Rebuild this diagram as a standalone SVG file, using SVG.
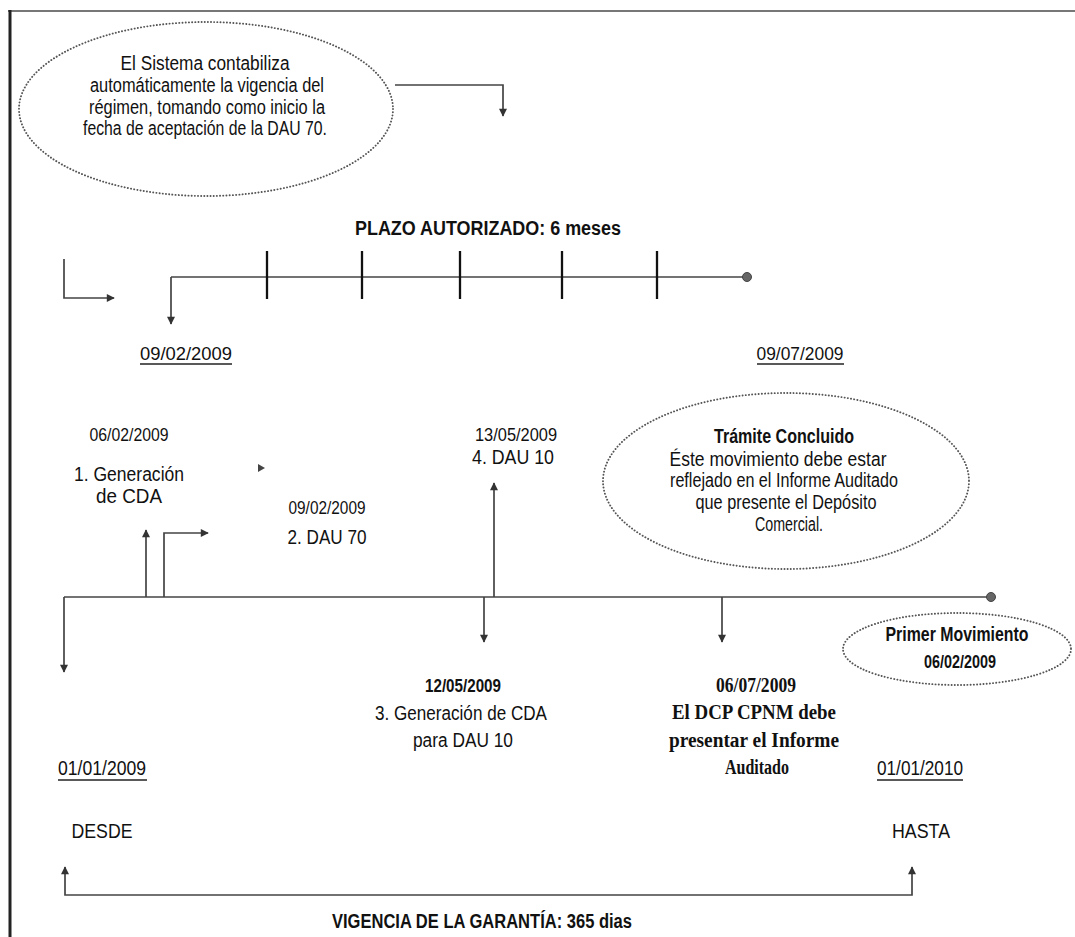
<svg xmlns="http://www.w3.org/2000/svg" width="1075" height="937" viewBox="0 0 1075 937">
<defs>
<style>
.t{font-family:"Liberation Sans Narrow","Arial Narrow","Liberation Sans",Arial,sans-serif;fill:#111;text-anchor:middle;font-size:20px}
.d{font-size:17.5px}
.b{font-weight:bold}
.s{font-family:"Liberation Serif","Times New Roman",serif;font-weight:bold}
.ln{stroke:#444;stroke-width:1.7;fill:none}
.ell{fill:none;stroke:#555;stroke-width:1.9;stroke-dasharray:0.1 3.1;stroke-linecap:round}
.tick{stroke:#111;stroke-width:2.3}
.ul{stroke:#222;stroke-width:1.5}
.dot{fill:#666;stroke:#444;stroke-width:1}
</style>
<marker id="ah" viewBox="0 0 10 10" refX="9" refY="5" markerWidth="9" markerHeight="8" markerUnits="userSpaceOnUse" orient="auto-start-reverse">
<path d="M0,0 L10,5 L0,10 z" fill="#333"/>
</marker>
</defs>
<rect width="1075" height="937" fill="#fff"/>
<g id="frame">
<line x1="8" y1="11" x2="1075" y2="11" stroke="#777" stroke-width="2"/>
<line x1="10" y1="10" x2="10" y2="937" stroke="#222" stroke-width="3"/>
</g>
<g id="note-sistema">
<ellipse class="ell" cx="206" cy="109" rx="187" ry="87"/>
<text class="t" x="205" y="70" textLength="169" lengthAdjust="spacingAndGlyphs">El Sistema contabiliza</text>
<text class="t" x="207" y="92" textLength="234" lengthAdjust="spacingAndGlyphs">automáticamente la vigencia del</text>
<text class="t" x="207" y="114" textLength="236" lengthAdjust="spacingAndGlyphs">régimen, tomando como inicio la</text>
<text class="t" x="205" y="135" textLength="244" lengthAdjust="spacingAndGlyphs">fecha de aceptación de la DAU 70.</text>
</g>
<g id="plazo-title">
<text class="t b" x="488" y="235" font-size="20" textLength="266" lengthAdjust="spacingAndGlyphs">PLAZO AUTORIZADO: 6 meses</text>
</g>
<g id="date-0902">
<text class="t d" x="186" y="360" font-size="18" textLength="92" lengthAdjust="spacingAndGlyphs">09/02/2009</text>
<line class="ul" x1="140" y1="364" x2="232" y2="364"/>
</g>
<g id="date-0907">
<text class="t d" x="800" y="360" font-size="18" textLength="87" lengthAdjust="spacingAndGlyphs">09/07/2009</text>
<line class="ul" x1="757" y1="364" x2="844" y2="364"/>
</g>
<g id="event-1">
<text class="t d" x="129" y="441" textLength="79" lengthAdjust="spacingAndGlyphs">06/02/2009</text>
<text class="t" x="129" y="481" font-size="21" textLength="110" lengthAdjust="spacingAndGlyphs">1. Generación</text>
<text class="t" x="129" y="503" font-size="21" textLength="66" lengthAdjust="spacingAndGlyphs">de CDA</text>
</g>
<g id="marker-tri">
<polygon points="258,464 265,468 258,472" fill="#444"/>
</g>
<g id="event-2">
<text class="t d" x="327" y="514" textLength="77" lengthAdjust="spacingAndGlyphs">09/02/2009</text>
<text class="t" x="327" y="544" font-size="21" textLength="79" lengthAdjust="spacingAndGlyphs">2. DAU 70</text>
</g>
<g id="event-4">
<text class="t d" x="516" y="441" textLength="82" lengthAdjust="spacingAndGlyphs">13/05/2009</text>
<text class="t" x="513" y="464" font-size="21" textLength="82" lengthAdjust="spacingAndGlyphs">4. DAU 10</text>
</g>
<g id="note-tramite">
<ellipse class="ell" cx="786" cy="481" rx="183" ry="88"/>
<text class="t b" x="784" y="443" font-size="19" textLength="140" lengthAdjust="spacingAndGlyphs">Trámite Concluido</text>
<text class="t" x="778" y="466" font-size="19" textLength="217" lengthAdjust="spacingAndGlyphs">Éste movimiento debe estar</text>
<text class="t" x="784" y="487" font-size="19" textLength="228" lengthAdjust="spacingAndGlyphs">reflejado en el Informe Auditado</text>
<text class="t" x="786" y="509" font-size="19" textLength="181" lengthAdjust="spacingAndGlyphs">que presente el Depósito</text>
<text class="t" x="789" y="531" font-size="19" textLength="68" lengthAdjust="spacingAndGlyphs">Comercial.</text>
</g>
<g id="note-primer">
<ellipse class="ell" cx="957" cy="649" rx="114" ry="36"/>
<text class="t b" x="957" y="641" font-size="19" textLength="143" lengthAdjust="spacingAndGlyphs">Primer Movimiento</text>
<text class="t d b" x="960" y="668" textLength="72" lengthAdjust="spacingAndGlyphs">06/02/2009</text>
</g>
<g id="event-3">
<text class="t d b" x="463" y="692" textLength="76" lengthAdjust="spacingAndGlyphs">12/05/2009</text>
<text class="t" x="461" y="720" font-size="21" textLength="172" lengthAdjust="spacingAndGlyphs">3. Generación de CDA</text>
<text class="t" x="463" y="747" font-size="21" textLength="100" lengthAdjust="spacingAndGlyphs">para DAU 10</text>
</g>
<g id="event-5">
<text class="t s" x="756" y="692" font-size="20" textLength="80" lengthAdjust="spacingAndGlyphs">06/07/2009</text>
<text class="t s" x="754" y="719" font-size="20" textLength="164" lengthAdjust="spacingAndGlyphs">El DCP CPNM debe</text>
<text class="t s" x="754" y="747" font-size="20" textLength="170" lengthAdjust="spacingAndGlyphs">presentar el Informe</text>
<text class="t s" x="757" y="774" font-size="20" textLength="64" lengthAdjust="spacingAndGlyphs">Auditado</text>
</g>
<g id="desde">
<text class="t" x="102" y="775" font-size="18" textLength="88" lengthAdjust="spacingAndGlyphs">01/01/2009</text>
<line class="ul" x1="58" y1="780" x2="147" y2="780"/>
<text class="t" x="102" y="838" textLength="61" lengthAdjust="spacingAndGlyphs">DESDE</text>
</g>
<g id="hasta">
<text class="t" x="920" y="775" font-size="18" textLength="86" lengthAdjust="spacingAndGlyphs">01/01/2010</text>
<line class="ul" x1="877" y1="780" x2="963" y2="780"/>
<text class="t" x="921" y="838" textLength="58" lengthAdjust="spacingAndGlyphs">HASTA</text>
</g>
<g id="vigencia-title">
<text class="t b" x="482" y="928" font-size="20" textLength="300" lengthAdjust="spacingAndGlyphs">VIGENCIA DE LA GARANTÍA: 365 dias</text>
</g>
<g id="connectors">
<path class="ln" d="M395 85 H503 V116" marker-end="url(#ah)"/>
<path class="ln" d="M64 259 V298 H114" marker-end="url(#ah)"/>
<path class="ln" d="M171 277 H745"/>
<circle class="dot" cx="747" cy="277" r="4.5"/>
<path class="ln" d="M171 277 V324" marker-end="url(#ah)"/>
<line class="tick" x1="267" y1="251" x2="267" y2="299"/>
<line class="tick" x1="362" y1="251" x2="362" y2="299"/>
<line class="tick" x1="460" y1="251" x2="460" y2="299"/>
<line class="tick" x1="562" y1="251" x2="562" y2="299"/>
<line class="tick" x1="657" y1="251" x2="657" y2="299"/>
<path class="ln" d="M64 597 H988"/>
<circle class="dot" cx="991" cy="597" r="4.5"/>
<path class="ln" d="M146 597 V530" marker-end="url(#ah)"/>
<path class="ln" d="M164 597 V533 H208" marker-end="url(#ah)"/>
<path class="ln" d="M494 597 V483" marker-end="url(#ah)"/>
<path class="ln" d="M484 597 V642" marker-end="url(#ah)"/>
<path class="ln" d="M722 597 V642" marker-end="url(#ah)"/>
<path class="ln" d="M64 597 V672" marker-end="url(#ah)"/>
<path class="ln" d="M65 867 V895 H912 V867" marker-start="url(#ah)" marker-end="url(#ah)"/>
</g>
</svg>
